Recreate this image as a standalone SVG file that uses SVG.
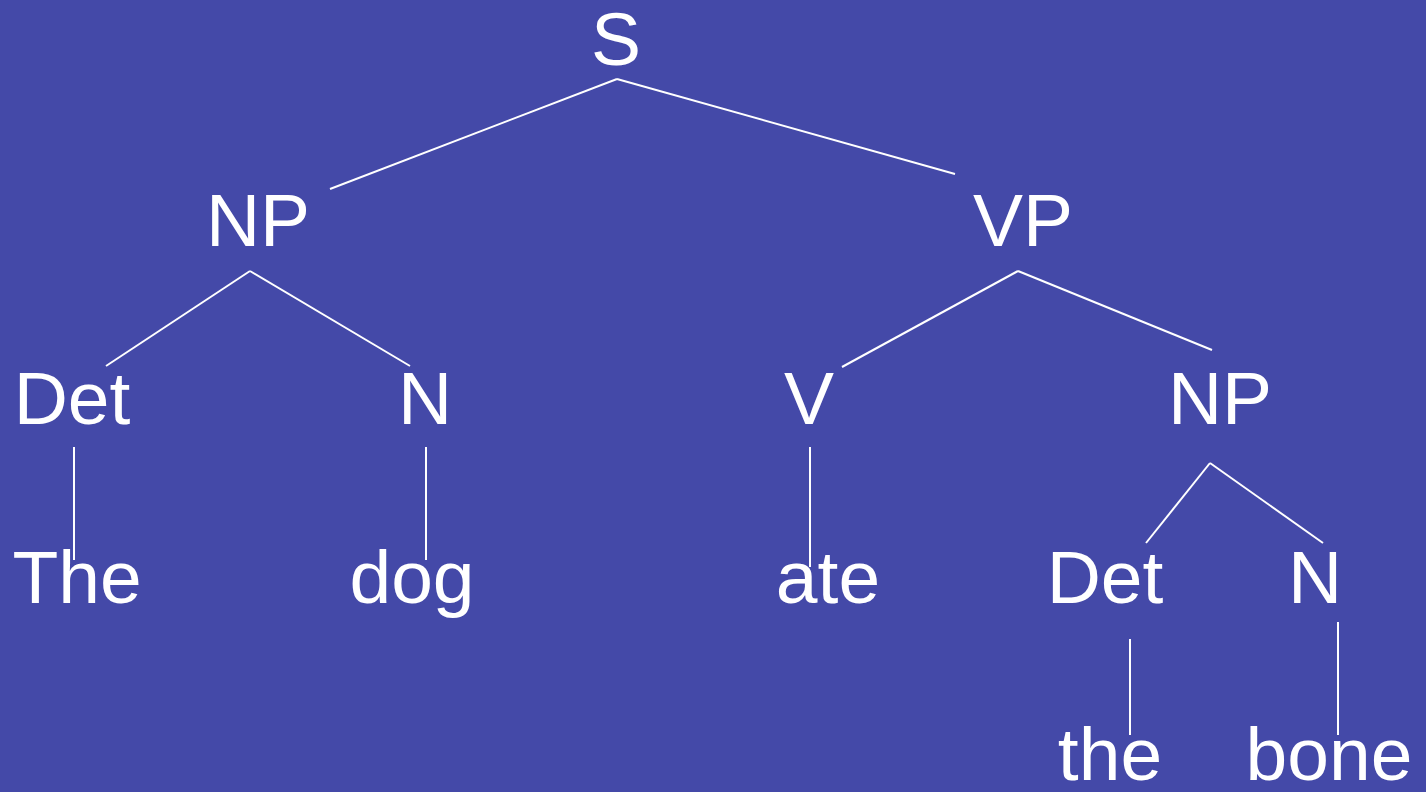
<svg xmlns="http://www.w3.org/2000/svg" width="1426" height="792" viewBox="0 0 1426 792">
<style>
text{font-family:"Liberation Sans",Arial,sans-serif;font-size:75px;fill:#ffffff;text-anchor:middle}
.e line{stroke:#ffffff;stroke-width:2}
</style>
<rect width="1426" height="792" fill="#4449A8"/>
<g id="edges" class="e">
<line x1="617" y1="79" x2="330" y2="189"/>
<line x1="617" y1="79" x2="955" y2="174"/>
<line x1="250" y1="271" x2="106" y2="366"/>
<line x1="250" y1="271" x2="410" y2="366"/>
<line x1="1018" y1="271" x2="842" y2="367"/>
<line x1="1018" y1="271" x2="1212" y2="350"/>
<line x1="74" y1="447" x2="74" y2="560"/>
<line x1="426" y1="447" x2="426" y2="560"/>
<line x1="810" y1="447" x2="810" y2="567"/>
<line x1="1210" y1="463" x2="1146" y2="543"/>
<line x1="1210" y1="463" x2="1323" y2="543"/>
<line x1="1130" y1="639" x2="1130" y2="735"/>
<line x1="1338" y1="622" x2="1338" y2="735"/>
</g>
<g id="S"><text x="616" y="65">S</text></g>
<g id="NP1"><text x="258" y="246">NP</text></g>
<g id="VP"><text x="1023" y="246">VP</text></g>
<g id="Det1"><text x="72" y="424">Det</text></g>
<g id="N1"><text x="425" y="424">N</text></g>
<g id="V"><text x="809" y="424">V</text></g>
<g id="NP2"><text x="1220" y="424">NP</text></g>
<g id="The"><text x="77" y="603">The</text></g>
<g id="dog"><text x="412" y="603">dog</text></g>
<g id="ate"><text x="828" y="603">ate</text></g>
<g id="Det2"><text x="1105" y="603">Det</text></g>
<g id="N2"><text x="1315" y="603">N</text></g>
<g id="the"><text x="1110" y="780">the</text></g>
<g id="bone"><text x="1329" y="780">bone</text></g>
</svg>
